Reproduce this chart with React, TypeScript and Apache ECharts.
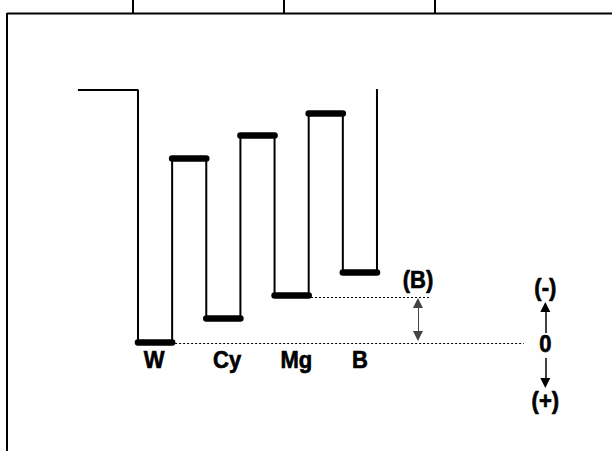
import React, { useEffect, useRef } from "react";
import * as echarts from "echarts";

// Time axis: one colour-bar period = 1 unit (W bar starts at 0).
// Level axis: arbitrary signal units, W level = 0, upward = (-) polarity.
const barNames = ["W", "Cy", "Mg", "B"];
const lowLevels = [0, 2.4, 4.7, 7.0]; // W, Cy, Mg, B
const highLevels = [18.4, 20.7, 22.9]; // between the bars
const startTime = -1.76;
const startLevel = 25.2;
const endLevel = 25.3;

// Annotation values
const labelTimes = [0.47, 2.61, 4.64, 6.50];
const labelLevel = -1.75;
const refLevels = [-0.1, 4.5]; // dotted reference lines: W level, Mg level
const refStart = [0.97, 4.95];
const refEnd = [11.3, 8.55];
const diffArrowTime = 8.2;
const diffLabelLevel = 6.2;
const polarityTime = 11.93;
const polarityLabels = ["(-)", "0", "(+)"];
const polarityLevels = [5.4, -0.15, -5.9];

const X_MIN = -4.042;
const X_MAX = 13.884;
const Y_MIN = -10.9;
const Y_MAX = 34.2;

export default function App() {
  const ref = useRef<HTMLDivElement>(null);

  useEffect(() => {
    if (!ref.current) return;
    const chart = echarts.init(ref.current, undefined, { renderer: "svg" });

    // waveform
    const wave: number[][] = [[startTime, startLevel], [0, startLevel]];
    const flats: { coords: number[][] }[] = [];
    let t = 0;
    for (let i = 0; i < lowLevels.length; i++) {
      wave.push([t, lowLevels[i]], [t + 1, lowLevels[i]]);
      flats.push({ coords: [[t, lowLevels[i]], [t + 1, lowLevels[i]]] });
      t += 1;
      if (i < highLevels.length) {
        wave.push([t, highLevels[i]], [t + 1, highLevels[i]]);
        flats.push({ coords: [[t, highLevels[i]], [t + 1, highLevels[i]]] });
        t += 1;
      }
    }
    wave.push([t, endLevel]);

    const frame = [
      { type: "line", shape: { x1: 7, y1: 13.5, x2: 612, y2: 13.5 }, style: { stroke: "#000", lineWidth: 2 } },
      { type: "line", shape: { x1: 7, y1: 13, x2: 7, y2: 451 }, style: { stroke: "#000", lineWidth: 2 } },
      { type: "line", shape: { x1: 133, y1: 0, x2: 133, y2: 13 }, style: { stroke: "#000", lineWidth: 2 } },
      { type: "line", shape: { x1: 284, y1: 0, x2: 284, y2: 13 }, style: { stroke: "#000", lineWidth: 2 } },
      { type: "line", shape: { x1: 435, y1: 0, x2: 435, y2: 13 }, style: { stroke: "#000", lineWidth: 2 } },
    ];

    chart.setOption({
      animation: false,
      backgroundColor: "#fff",
      grid: { left: 0, right: 0, top: 0, bottom: 0 },
      xAxis: { type: "value", min: X_MIN, max: X_MAX, show: false },
      yAxis: { type: "value", min: Y_MIN, max: Y_MAX, show: false },
      series: [
        {
          type: "lines",
          coordinateSystem: "cartesian2d",
          silent: true,
          symbol: "none",
          lineStyle: { color: "#000", width: 1.2, type: [2, 2], opacity: 1 },
          data: refLevels.map((lv, i) => ({ coords: [[refStart[i], lv], [refEnd[i], lv]] })),
        },
        {
          type: "line",
          data: wave,
          symbol: "none",
          lineStyle: { color: "#000", width: 2 },
          z: 3,
        },
        {
          type: "lines",
          coordinateSystem: "cartesian2d",
          symbol: "none",
          lineStyle: { color: "#000", width: 6.5, cap: "round", opacity: 1 },
          data: flats,
          z: 4,
        },
        {
          type: "lines",
          coordinateSystem: "cartesian2d",
          symbol: ["triangle", "triangle"],
          symbolSize: 10,
          lineStyle: { color: "#444", width: 1, opacity: 1 },
          data: [{ coords: [[diffArrowTime, 0.6], [diffArrowTime, 3.9]] }],
          z: 5,
        },
        {
          type: "lines",
          coordinateSystem: "cartesian2d",
          symbol: ["none", "triangle"],
          symbolSize: 10,
          lineStyle: { color: "#000", width: 1.5, opacity: 1 },
          data: [
            { coords: [[polarityTime, 0.9], [polarityTime, 3.5]] },
            { coords: [[polarityTime, -1.6], [polarityTime, -4.1]] },
          ],
          z: 5,
        },
      ],
      graphic: frame,
    });

    // Texts placed through the chart's own scales
    const labelItems = [
      ...barNames.map((n, i) => ({ text: n, at: [labelTimes[i], labelLevel] })),
      { text: "(B)", at: [diffArrowTime, diffLabelLevel] },
      ...polarityLabels.map((n, i) => ({ text: n, at: [polarityTime, polarityLevels[i]] })),
    ];
    const texts = labelItems.map((it) => {
      const p = chart.convertToPixel({ gridIndex: 0 }, it.at) as number[];
      return {
        type: "text",
        x: p[0],
        y: p[1],
        scaleY: 1.1,
        z: 10,
        style: {
          text: it.text,
          fill: "#000",
          stroke: "#000",
          lineWidth: 0.6,
          fontSize: 22,
          fontWeight: "bold",
          fontFamily: "Liberation Sans",
          textAlign: "center",
          textVerticalAlign: "middle",
        },
      };
    });
    chart.setOption({ graphic: [...frame, ...texts] });

    return () => chart.dispose();
  }, []);

  return (
    <div
      ref={ref}
      style={{ position: "fixed", left: 0, top: 0, width: 612, height: 451, background: "#fff" }}
    />
  );
}
